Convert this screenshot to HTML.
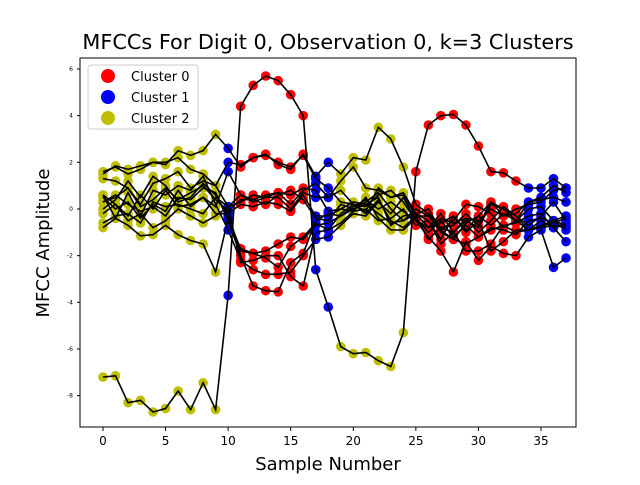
<!DOCTYPE html>
<html><head><meta charset="utf-8"><style>
body{margin:0;background:#fff;font-family:"Liberation Sans","DejaVu Sans",sans-serif;}
svg text{font-family:"DejaVu Sans","Liberation Sans",sans-serif;}
</style></head><body>
<svg id="chart" width="640" height="480">
<rect x="0" y="0" width="640" height="480" fill="#fff"/>
<text x="328" y="49" text-anchor="middle" font-size="20.8">MFCCs For Digit 0, Observation 0, k=3 Clusters</text>
<g id="lines"></g><g id="pts"></g>
<rect x="80" y="58" width="496" height="369" fill="none" stroke="#000" stroke-width="1"/>
<g id="xt"></g><g id="yt"></g>
<text x="328" y="470" text-anchor="middle" font-size="18">Sample Number</text>
<text transform="translate(49,243) rotate(-90)" text-anchor="middle" font-size="18">MFCC Amplitude</text>
<g>
<rect x="88" y="65" width="110" height="64" rx="3" fill="#fff" stroke="#ccc"/>
<circle cx="108" cy="76" r="7" fill="#ff0000"/>
<text x="131" y="81" font-size="13">Cluster 0</text>
<circle cx="108" cy="97" r="7" fill="#0000ff"/>
<text x="131" y="102" font-size="13">Cluster 1</text>
<circle cx="108" cy="118" r="7" fill="#bfbf00"/>
<text x="131" y="123" font-size="13">Cluster 2</text>
</g>
</svg>
<script>
const clusters=[2,2,2,2,2,2,2,2,2,2,1,0,0,0,0,0,0,1,1,2,2,2,2,2,2,0,0,0,0,0,0,0,0,0,1,1,1,1];
const xTicks=[0,5,10,15,20,25,30,35];
const yTicks=[-8,-6,-4,-2,0,2,4,6];
const c0=[-7.2,-7.15,-8.3,-8.2,-8.7,-8.55,-7.8,-8.6,-7.45,-8.6,-3.7,4.4,5.3,5.7,5.5,4.9,4.0,-2.6,-4.2,-5.9,-6.2,-6.15,-6.5,-6.75,-5.3,1.6,3.6,4.0,4.05,3.6,2.7,1.6,1.55,1.2,0.9,0.9,1.3,0.9];
const c1=[1.5,1.85,1.7,1.85,2.0,1.9,2.5,2.3,2.5,3.2,2.6,1.8,2.2,2.35,1.9,1.7,2.35,1.4,2.0,1.5,2.2,2.1,3.5,3.0,1.8,0.2,-0.2,-0.8,-1.0,-0.4,-0.5,0.0,-0.3,-0.2,0.3,0.4,0.5,0.3];
const c2=[-0.8,-0.4,-0.7,-1.15,-1.1,-0.7,-1.1,-1.35,-1.5,-2.7,-0.4,-1.7,-1.9,-1.8,-1.5,-1.2,-1.3,-0.7,-0.6,-0.3,0.0,0.2,-0.2,-0.6,-0.5,0.0,-0.3,-1.0,-1.3,-1.5,-1.2,-0.9,-0.7,-1.0,-0.9,-0.8,-0.5,-0.3];
const c3=[1.3,1.2,0.9,0.2,1.1,1.3,1.6,0.9,1.2,1.0,0.1,0.6,0.3,0.5,0.7,0.2,0.8,1.1,0.5,1.2,1.8,0.9,0.8,0.5,0.7,-0.2,-0.5,-1.5,-1.0,-0.5,-0.8,0.2,0.0,-0.3,-0.9,-0.5,-0.8,-0.6];
const c4=[0.6,-0.4,0.7,-0.3,0.8,0.6,1.0,0.8,1.4,0.2,-0.9,-2.2,-2.6,-2.8,-2.8,-2.7,-2.0,-1.3,-1.2,-0.7,-0.2,-0.3,0.3,-0.2,0.5,-0.5,-0.8,-0.2,-1.0,-1.8,-1.8,-1.5,-0.7,-0.6,-0.3,-0.2,-0.8,-1.4];
const c5=[0.3,0.6,0.2,-0.1,0.1,-0.3,0.5,0.4,0.9,0.7,-0.5,-2.0,-3.3,-3.5,-3.55,-2.3,-1.9,-0.5,-0.2,-0.3,0.1,0.4,0.0,0.3,-0.1,-0.5,-1.2,-1.8,-2.7,-1.4,-2.2,-1.6,-1.9,-2.0,-1.2,-0.9,-2.5,-2.1];
const c6=[1.6,1.8,1.5,1.7,2.0,2.0,2.2,1.7,1.5,1.0,2.0,1.9,2.2,2.3,2.0,1.8,2.3,1.3,0.9,0.3,0.2,0.1,0.6,0.8,0.3,-0.5,-0.8,-0.6,-0.3,-0.9,-0.3,0.3,0.0,-0.5,0.3,0.5,1.0,0.7];
const c7=[0.0,0.4,1.2,0.5,1.4,1.0,0.3,0.5,1.1,0.6,-0.3,-1.8,-1.9,-2.1,-2.5,-1.6,-1.2,-0.6,-0.9,-0.2,0.2,-0.1,0.9,0.5,0.6,-0.3,-0.3,-0.9,-1.3,-0.6,-0.3,-0.7,-0.2,-0.5,-0.9,-0.7,-0.5,-0.9];
const c8=[0.6,0.2,-0.3,0.6,0.0,0.8,0.1,0.2,0.5,0.1,1.6,0.6,0.4,0.6,0.7,0.6,0.9,0.8,-0.1,0.0,0.3,0.2,0.5,-0.7,-0.3,-0.2,-0.8,-0.4,-0.6,-0.4,-1.0,-0.5,0.1,-0.3,-0.7,-0.3,0.3,-0.5];
const c9=[-0.2,0.2,-0.5,-0.2,-0.8,-0.5,0.0,-0.3,-0.6,-0.3,0.1,-2.3,-2.2,-2.0,-2.0,-2.9,-3.3,-1.0,-0.9,-0.6,-0.1,0.0,-0.5,-0.4,0.0,-0.7,-0.5,-1.3,-0.3,-1.0,-0.5,-1.8,-1.4,-0.9,-0.9,-0.8,-0.7,-0.8];
const c10=[0.3,0.5,0.9,0.1,0.4,0.9,0.4,0.7,1.0,0.4,-0.1,0.4,0.4,0.2,0.6,0.8,0.4,-0.4,-0.5,0.2,0.0,0.3,0.7,0.0,-0.5,-0.2,0.0,-0.9,-0.5,0.2,0.1,-0.2,-0.8,-0.5,0.0,0.1,-0.5,-0.7];
const c11=[-0.6,-0.3,-0.2,-0.6,0.3,0.1,0.2,0.0,-0.2,0.5,0.1,0.3,0.6,0.5,0.5,0.0,0.7,0.5,0.5,0.8,0.2,-0.2,0.4,-0.5,-0.8,-0.3,-1.3,-0.8,-0.7,-0.2,-0.7,0.3,-0.3,0.0,0.2,0.3,0.8,0.9];
const c12=[0.5,0.0,0.3,-0.4,0.2,-0.1,0.8,0.1,0.5,-0.2,-0.2,0.2,0.1,0.3,0.2,-0.1,0.6,-0.3,-0.3,0.0,-0.1,0.5,-0.4,-0.9,-0.9,-0.4,-1.0,-0.5,-1.2,-0.7,-1.2,-0.8,-0.9,-1.1,-0.5,-0.4,-0.6,-0.4];
const series=[c0,c1,c2,c3,c4,c5,c6,c7,c8,c9,c10,c11,c12];
const colors=["#ff0000","#0000ff","#bfbf00"];
const X=v=>103+v*(541-103)/35;
const Y=v=>209-v*(209-69)/6;
const NS="http://www.w3.org/2000/svg";
const lines=document.getElementById('lines'),pts=document.getElementById('pts');
series.forEach((s,si)=>{
  s.forEach((v,i)=>{
    const c=document.createElementNS(NS,'circle');
    c.setAttribute('cx',X(i));c.setAttribute('cy',Y(v));c.setAttribute('r',4.8);
    c.setAttribute('fill',colors[clusters[i]]);
    
    
    lines.appendChild(c);
  });
});
series.forEach((s,si)=>{
  const p=document.createElementNS(NS,'polyline');
  p.setAttribute('points',s.map((v,i)=>X(i)+','+Y(v)).join(' '));
  p.setAttribute('fill','none');p.setAttribute('stroke','#000');p.setAttribute('stroke-width','1.6');
  
  
  pts.appendChild(p);
});
const xt=document.getElementById('xt'),yt=document.getElementById('yt');
xTicks.forEach(t=>{
  const l=document.createElementNS(NS,'line');
  l.setAttribute('x1',X(t));l.setAttribute('x2',X(t));l.setAttribute('y1',427);l.setAttribute('y2',431);l.setAttribute('stroke','#000');
  
  
  xt.appendChild(l);
  const tx=document.createElementNS(NS,'text');
  tx.setAttribute('x',X(t));tx.setAttribute('y',445);tx.setAttribute('text-anchor','middle');tx.setAttribute('font-size','12');
  tx.textContent=t;
  
  
  xt.appendChild(tx);
});
yTicks.forEach(t=>{
  const l=document.createElementNS(NS,'line');
  l.setAttribute('x1',77);l.setAttribute('x2',80);l.setAttribute('y1',Y(t));l.setAttribute('y2',Y(t));l.setAttribute('stroke','#000');
  
  
  yt.appendChild(l);
  const tx=document.createElementNS(NS,'text');
  tx.setAttribute('x',73);tx.setAttribute('y',Y(t)+2);tx.setAttribute('text-anchor','end');tx.setAttribute('font-size','6');
  tx.textContent=t;
  
  
  yt.appendChild(tx);
});
</script>
</body></html>
